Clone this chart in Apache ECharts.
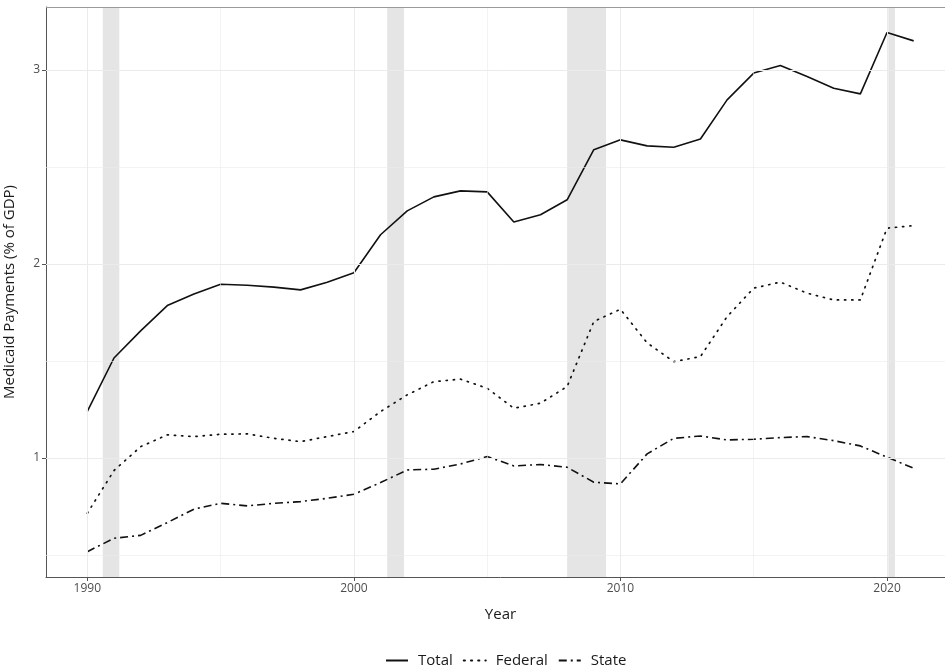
<!DOCTYPE html>
<html>
<head>
<meta charset="utf-8">
<script src="https://cdn.jsdelivr.net/npm/echarts@6/dist/echarts.min.js"></script>
<style>
  html, body { margin: 0; padding: 0; background: #fff; overflow: hidden; }
  #main { width: 956px; height: 668px; }
</style>
</head>
<body>
<div id="main"></div>
<script>
  // data
  var years = [1990, 1991, 1992, 1993, 1994, 1995, 1996, 1997, 1998, 1999,
               2000, 2001, 2002, 2003, 2004, 2005, 2006, 2007, 2008, 2009,
               2010, 2011, 2012, 2013, 2014, 2015, 2016, 2017, 2018, 2019,
               2020, 2021];
  var total = [1.24, 1.515, 1.655, 1.785, 1.845, 1.895, 1.89, 1.88, 1.866, 1.905,
               1.954, 2.15, 2.273, 2.345, 2.376, 2.371, 2.216, 2.253, 2.33, 2.588,
               2.639, 2.608, 2.601, 2.643, 2.845, 2.983, 3.022, 2.965, 2.905, 2.876,
               3.192, 3.149];
  var federal = [0.715, 0.935, 1.058, 1.119, 1.11, 1.122, 1.124, 1.101, 1.084, 1.11,
                 1.136, 1.239, 1.325, 1.393, 1.406, 1.359, 1.256, 1.282, 1.368, 1.703,
                 1.766, 1.593, 1.496, 1.522, 1.728, 1.875, 1.906, 1.849, 1.814, 1.814,
                 2.184, 2.197];
  var state = [0.517, 0.586, 0.601, 0.667, 0.736, 0.766, 0.753, 0.766, 0.775, 0.792,
               0.813, 0.873, 0.938, 0.942, 0.969, 1.007, 0.959, 0.966, 0.952, 0.875,
               0.866, 1.021, 1.101, 1.113, 1.093, 1.096, 1.105, 1.11, 1.089, 1.062,
               1.004, 0.947];

  // recessions (shaded)
  var recStart = [1990.58, 2001.25, 2008.0, 2020.05];
  var recEnd = [1991.2, 2001.88, 2009.46, 2020.3];

  // ticks / grid lines
  var xMajor = [1990, 2000, 2010, 2020];
  var xMinor = [1995, 2005, 2015];
  var yMajor = [1, 2, 3];
  var yMinor = [0.5, 1.5, 2.5];

  var yMin = 0.3865, yMax = 3.3235;
  var font = '"Open Sans", sans-serif';
  var myChart = echarts.init(document.getElementById('main'), null, { renderer: 'canvas' });

  function pairs(vals) {
    return years.map(function (y, i) { return [y, vals[i]]; });
  }

  var gridLines = [];
  xMajor.forEach(function (v) { gridLines.push({ xAxis: v, lineStyle: { width: 1 } }); });
  xMinor.forEach(function (v) { gridLines.push({ xAxis: v, lineStyle: { width: 0.6 } }); });
  yMajor.forEach(function (v) { gridLines.push({ yAxis: v, lineStyle: { width: 1 } }); });
  yMinor.forEach(function (v) { gridLines.push({ yAxis: v, lineStyle: { width: 0.6 } }); });

  var bands = recStart.map(function (s, i) {
    return [{ xAxis: s }, { xAxis: recEnd[i] }];
  });

  var option = {
    animation: false,
    backgroundColor: '#fff',
    grid: {
      left: 46, top: 7, right: 1, bottom: 91,
      containLabel: false, outerBoundsMode: 'none'
    },
    legend: {
      data: ['Total', 'Federal', 'State'],
      left: 380, top: 648,
      itemWidth: 22, itemHeight: 14, itemGap: 10,
      itemStyle: { opacity: 0 },
      textStyle: { fontFamily: font, fontSize: 15, color: '#1a1a1a', padding: [0, 0, 0, 5] }
    },
    xAxis: {
      type: 'value',
      min: 1988.45, max: 2022.55,
      name: 'Year', nameLocation: 'middle', nameGap: 30,
      nameTextStyle: { fontFamily: font, fontSize: 15, color: '#1a1a1a' },
      axisLine: { show: true, lineStyle: { color: '#555', width: 1 } },
      axisTick: { show: true, length: 4, lineStyle: { color: '#555' }, customValues: xMajor },
      axisLabel: {
        fontFamily: font, fontSize: 12, color: '#4d4d4d', margin: 6, customValues: xMajor,
        formatter: function (v) { return String(v); }
      },
      splitLine: { show: false }
    },
    yAxis: {
      type: 'value',
      min: yMin, max: yMax,
      name: 'Medicaid Payments (% of GDP)', nameLocation: 'middle', nameGap: 29,
      nameTextStyle: { fontFamily: font, fontSize: 15, color: '#1a1a1a' },
      axisLine: { show: true, lineStyle: { color: '#555', width: 1 } },
      axisTick: { show: true, length: 4, lineStyle: { color: '#555' }, customValues: yMajor },
      axisLabel: {
        fontFamily: font, fontSize: 12, color: '#4d4d4d', margin: 6, customValues: yMajor,
        formatter: function (v) { return String(v); }
      },
      splitLine: { show: false }
    },
    series: [
      {
        name: 'grid', type: 'line', data: [], silent: true, z: 1,
        markLine: {
          silent: true, symbol: ['none', 'none'], label: { show: false },
          lineStyle: { color: '#ebebeb', type: 'solid' },
          data: gridLines
        }
      },
      {
        name: 'recessions', type: 'line', data: [], silent: true, z: 1,
        markArea: {
          silent: true,
          itemStyle: { color: '#e5e5e5' },
          data: bands
        }
      },
      {
        // panel top border
        name: 'border', type: 'line', data: [], silent: true, z: 2,
        markLine: {
          silent: true, symbol: ['none', 'none'], label: { show: false },
          lineStyle: { color: '#9a9a9a', type: 'solid', width: 1.2 },
          data: [{ yAxis: yMax }]
        }
      },
      {
        name: 'Total', type: 'line', data: pairs(total), z: 3,
        symbol: 'none', color: '#111',
        lineStyle: { color: '#111', width: 1.6, type: 'solid' }
      },
      {
        name: 'Federal', type: 'line', data: pairs(federal), z: 3,
        symbol: 'none', color: '#111',
        lineStyle: { color: '#111', width: 1.7, type: [1.2, 6], cap: 'round' }
      },
      {
        name: 'State', type: 'line', data: pairs(state), z: 3,
        symbol: 'none', color: '#111',
        lineStyle: { color: '#111', width: 1.6, type: [8, 4, 2, 4] }
      }
    ]
  };

  myChart.setOption(option);
</script>
</body>
</html>
